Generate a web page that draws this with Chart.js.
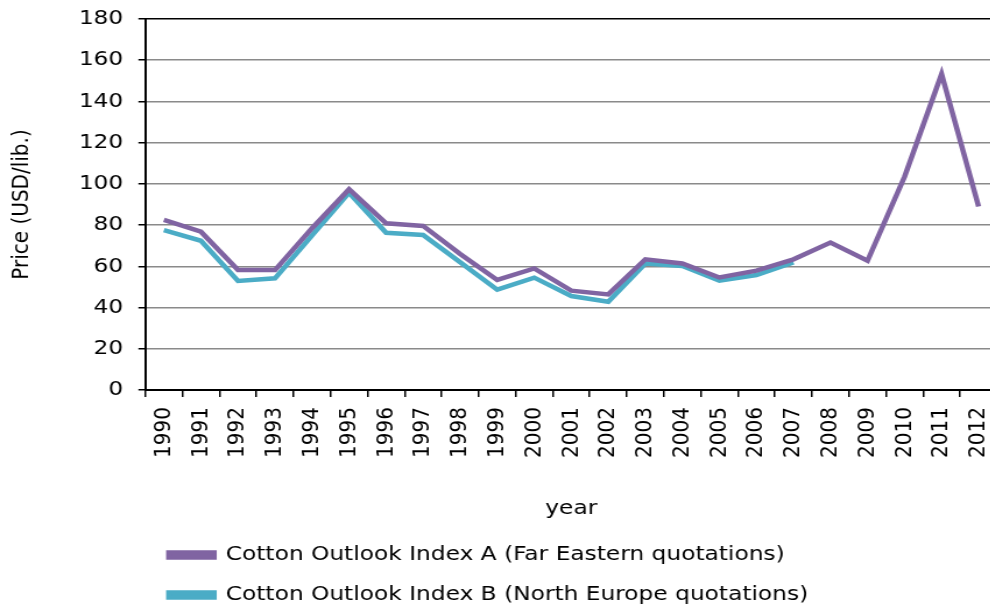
<!DOCTYPE html>
<html lang="en">
<head>
  <meta charset="UTF-8" />
  <title>Cotton Outlook Index A and B</title>
  <script src="https://cdn.jsdelivr.net/npm/chart.js"></script>
  <style>
    html, body { margin: 0; padding: 0; overflow: hidden; background: #fff; }
    #wrap { width: 990px; height: 605px; overflow: hidden; }
    /* the source picture is stretched sideways, so the canvas is too */
    #chart { transform: scaleX(1.165); transform-origin: 0 0; }
  </style>
</head>
<body>
  <div id="wrap"><canvas id="chart" width="874" height="615"></canvas></div>

  <script>
    // years on the x axis
    const years = ['1990', '1991', '1992', '1993', '1994', '1995', '1996', '1997', '1998', '1999', '2000',
                   '2001', '2002', '2003', '2004', '2005', '2006', '2007', '2008', '2009', '2010', '2011', '2012'];

    // Far Eastern quotations (USD/lib.)
    const indexA = [82.5, 76.8, 58.2, 58.2, 78.5, 97.4, 80.9, 79.6, 66.0, 53.4, 59.0, 48.2,
                    46.4, 63.4, 61.4, 54.6, 57.9, 63.4, 71.5, 62.7, 103.5, 153.3, 89.0];

    // North Europe quotations (USD/lib.), series stops after 2007
    const indexB = [77.6, 72.4, 52.9, 54.2, 75.0, 95.7, 76.3, 75.2, 62.0, 48.7, 54.5, 45.6,
                    42.8, 61.4, 60.2, 53.0, 55.8, 61.9, null, null, null, null, null];

    const seriesNames = ['Cotton Outlook Index A (Far Eastern quotations)',
                         'Cotton Outlook Index B (North Europe quotations)'];
    const seriesColors = ['#8064A2', '#4BACC6'];

    const font = { family: "'DejaVu Sans', Verdana, sans-serif", size: 20 };
    // small line height only so the top label does not push the plot down
    const yTickFont = { family: font.family, size: 20, lineHeight: 0.6 };

    const ctx = document.getElementById('chart').getContext('2d');
    new Chart(ctx, {
      type: 'line',
      data: {
        labels: years,
        datasets: [indexA, indexB].map((values, i) => ({
          label: seriesNames[i],
          data: values,
          borderColor: seriesColors[i],
          backgroundColor: seriesColors[i],
          borderWidth: 4.5,
          pointRadius: 0,
          tension: 0,
          spanGaps: false
        }))
      },
      options: {
        responsive: false,
        animation: false,
        devicePixelRatio: 1,
        layout: { padding: 0 },
        plugins: {
          tooltip: { enabled: false },
          legend: {
            position: 'bottom',
            align: 'start',
            fullSize: false,
            labels: {
              font: font,
              color: '#000',
              boxWidth: 39,
              boxHeight: 5,
              padding: 20
            }
          }
        },
        scales: {
          x: {
            offset: true,
            grid: { offset: true, drawOnChartArea: false, tickLength: 7, color: '#000', lineWidth: 1.5 },
            border: { color: '#000', width: 2 },
            ticks: { font: font, color: '#000', minRotation: 90, maxRotation: 90, autoSkip: false, padding: 10 },
            title: { display: true, text: 'year', font: font, color: '#000', padding: { top: 0, bottom: 4 } },
            afterFit: scale => { scale.height = 135; }
          },
          y: {
            min: 0,
            max: 180,
            ticks: { stepSize: 20, font: yTickFont, color: '#000', padding: 13 },
            grid: {
              color: c => (c.tick && c.tick.value === 180 ? '#000' : '#8a8a8a'),
              lineWidth: 1.5,
              tickLength: 6,
              tickColor: '#000'
            },
            border: { color: '#000', width: 2 },
            title: { display: true, text: 'Price (USD/lib.)', font: font, color: '#000', padding: { top: 7 } },
            afterFit: scale => { scale.width = 124.8; }
          }
        }
      }
    });
  </script>
</body>
</html>
